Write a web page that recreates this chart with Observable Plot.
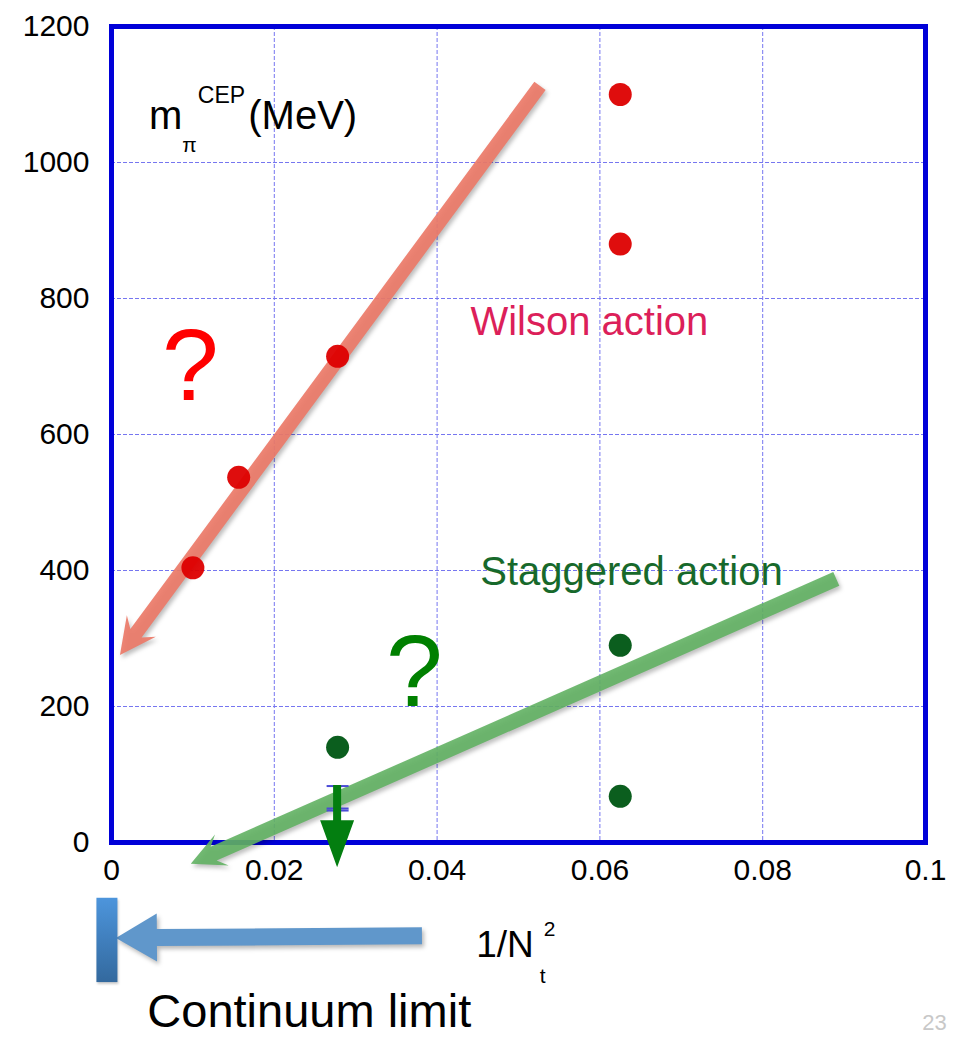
<!DOCTYPE html>
<html>
<head>
<meta charset="utf-8">
<script src="https://cdn.jsdelivr.net/npm/d3@7"></script>
<script src="https://cdn.jsdelivr.net/npm/@observablehq/plot@0.6"></script>
<style>
  html, body { margin: 0; padding: 0; background: #ffffff; }
  #chart svg { display: block; }
</style>
</head>
<body>
<div id="chart"></div>
<script>
// ---------- data ----------
// Wilson action points: x = 1/Nt^2, y = m_pi^CEP (MeV)
const wilsonX = [0.0625, 0.0625, 1 / 36, 1 / 64, 1 / 100];
const wilsonY = [1100, 880, 715, 537, 404];
// Staggered action points
const staggeredX = [0.0625, 0.0625, 1 / 36];
const staggeredY = [290, 68, 140];
// Upper-limit (Nt = 6 staggered) with error caps
const upperLimitX = [1 / 36];
const upperLimitFrom = [84];
const upperLimitTo = [-37];
const errorCapY = [83, 50, 47];
// Axis ticks
const xTicks = [0, 0.02, 0.04, 0.06, 0.08, 0.1];
const yTicks = [0, 200, 400, 600, 800, 1000, 1200];
const xGrid = [0.02, 0.04, 0.06, 0.08];
const yGrid = [200, 400, 600, 800, 1000];
// Trend arrows (data units: tail -> tip)
const arrowNames = ["wilson", "staggered", "continuum"];
const arrowX1 = [0.0527, 0.0891, 0.0382];
const arrowY1 = [1112, 387, -138];
const arrowX2 = [0.0011, 0.0098, 0.0006];
const arrowY2 = [275, -32, -141];
// Continuum-limit bar
const barX = [-0.0005];
const barY1 = [-82];
const barY2 = [-206];
// Text annotations
const labelNames = ["m", "pi", "cep", "mev", "wilson", "staggered", "qRed", "qGreen", "oneOverN", "sub_t", "sup_2", "continuum", "page"];
const labelText = ["m", "π", "CEP", "(MeV)", "Wilson action", "Staggered action", "?", "?", "1/N", "t", "2", "Continuum limit", "23"];
const labelX = [0.0046, 0.0087, 0.0106, 0.0168, 0.0441, 0.0453, 0.0097, 0.0372, 0.0448, 0.0526, 0.0531, 0.0044, 0.0996];
const labelY = [1050, 1016, 1088, 1050, 747, 378, 651, 201, -169, -206, -137, -272, -276];

// ---------- styles ----------
const labelStyle = {
  m: {fontSize: 40, fill: "#000"},
  pi: {fontSize: 21, fill: "#000"},
  cep: {fontSize: 23, fill: "#000"},
  mev: {fontSize: 40, fill: "#000"},
  wilson: {fontSize: 40, fill: "#dc1f5a"},
  staggered: {fontSize: 40, fill: "#17692b"},
  qRed: {fontSize: 102, fill: "#ff0000", textAnchor: "middle"},
  qGreen: {fontSize: 102, fill: "#008000", textAnchor: "middle"},
  oneOverN: {fontSize: 37, fill: "#000"},
  sub_t: {fontSize: 21, fill: "#000"},
  sup_2: {fontSize: 21, fill: "#000"},
  continuum: {fontSize: 47, fill: "#000"},
  page: {fontSize: 22, fill: "#c8c8c8"}
};
const arrowStyle = {
  wilson: {fill: "#ec7a68", opacity: 0.92, w: 14, hw: 18, hl: 36, notch: 9, shadow: true},
  staggered: {fill: "#62b163", opacity: 0.9, w: 15, hw: 17, hl: 34, notch: 9, shadow: true},
  continuum: {fill: "#6097cb", opacity: 1, w: 17, hw: 24, hl: 41, notch: 0, shadow: true}
};

// ---------- tables ----------
const wilson = wilsonX.map((x, i) => ({x, y: wilsonY[i]}));
const staggered = staggeredX.map((x, i) => ({x, y: staggeredY[i]}));
const caps = errorCapY.map(y => ({x: upperLimitX[0], y}));
const limits = upperLimitX.map((x, i) => ({x1: x, y1: upperLimitFrom[i], x2: x, y2: upperLimitTo[i]}));
const arrows = arrowNames.map((name, i) => ({name, x1: arrowX1[i], y1: arrowY1[i], x2: arrowX2[i], y2: arrowY2[i]}));
const bars = barX.map((x, i) => ({x, y1: barY1[i], y2: barY2[i]}));
const labels = labelNames.map((name, i) => ({name, text: labelText[i], x: labelX[i], y: labelY[i]}));

function arrowPath(x1, y1, x2, y2, w, hw, hl, notch) {
  const dx = x2 - x1, dy = y2 - y1, L = Math.hypot(dx, dy);
  const ux = dx / L, uy = dy / L, nx = -uy, ny = ux;
  const bx = x2 - ux * hl, by = y2 - uy * hl;
  const jx = x2 - ux * (hl - notch), jy = y2 - uy * (hl - notch);
  const p = [
    [x1 + nx * w / 2, y1 + ny * w / 2],
    [jx + nx * w / 2, jy + ny * w / 2],
    [bx + nx * hw, by + ny * hw],
    [x2, y2],
    [bx - nx * hw, by - ny * hw],
    [jx - nx * w / 2, jy - ny * w / 2],
    [x1 - nx * w / 2, y1 - ny * w / 2]
  ];
  return "M" + p.map(q => q[0].toFixed(2) + "," + q[1].toFixed(2)).join("L") + "Z";
}

// custom mark: big trend arrows drawn through Plot's scales
const trendArrows = (index, scales) => {
  const g = d3.create("svg:g");
  for (const a of arrows) {
    const s = arrowStyle[a.name];
    g.append("path")
      .attr("d", arrowPath(scales.x(a.x1), scales.y(a.y1), scales.x(a.x2), scales.y(a.y2), s.w, s.hw, s.hl, s.notch))
      .attr("fill", s.fill)
      .attr("fill-opacity", s.opacity)
      .style("filter", s.shadow ? "drop-shadow(2px 3px 2px rgba(0,0,0,0.28))" : null);
  }
  return g.node();
};

// custom mark: continuum-limit bar with gradient
const continuumBar = (index, scales) => {
  const g = d3.create("svg:g");
  const grad = g.append("defs").append("linearGradient")
    .attr("id", "barGrad").attr("x1", 0).attr("x2", 0).attr("y1", 0).attr("y2", 1);
  grad.append("stop").attr("offset", "0%").attr("stop-color", "#4d95dc");
  grad.append("stop").attr("offset", "100%").attr("stop-color", "#33699e");
  for (const b of bars) {
    const cx = scales.x(b.x), ya = scales.y(b.y1), yb = scales.y(b.y2);
    g.append("rect")
      .attr("x", cx - 10.5).attr("width", 21)
      .attr("y", Math.min(ya, yb)).attr("height", Math.abs(yb - ya))
      .attr("fill", "url(#barGrad)")
      .style("filter", "drop-shadow(1px 2px 1px rgba(0,0,0,0.2))");
  }
  return g.node();
};

// custom mark: upper-limit down arrow
const limitArrows = (index, scales) => {
  const g = d3.create("svg:g");
  for (const a of limits) {
    g.append("path")
      .attr("d", arrowPath(scales.x(a.x1), scales.y(a.y1), scales.x(a.x2), scales.y(a.y2), 8, 17, 47, 0))
      .attr("fill", "#037e10");
  }
  return g.node();
};

const capSymbol = {
  draw(context, size) {
    const r = Math.sqrt(size / Math.PI);
    context.moveTo(-r, 0);
    context.lineTo(r, 0);
  }
};

const textMarks = labels.map(l => {
  const s = labelStyle[l.name];
  return Plot.text([l], {
    x: "x", y: "y", text: "text",
    fontSize: s.fontSize, fill: s.fill,
    textAnchor: s.textAnchor || "start",
    lineAnchor: "bottom"
  });
});

const chart = Plot.plot({
  width: 960,
  height: 1037,
  marginLeft: 111,
  marginRight: 35,
  marginTop: 26,
  marginBottom: 195,
  x: {domain: [0, 0.1]},
  y: {domain: [0, 1200]},
  style: {
    fontFamily: "'Liberation Sans', Arial, Helvetica, sans-serif",
    background: "#ffffff",
    color: "#000000",
    overflow: "visible"
  },
  marks: [
    Plot.ruleX(xGrid, {stroke: "#7676f0", strokeWidth: 1, strokeDasharray: "4,2"}),
    Plot.ruleY(yGrid, {stroke: "#7676f0", strokeWidth: 1, strokeDasharray: "4,2"}),
    Plot.frame({stroke: "#0000d8", strokeWidth: 5}),
    Plot.axisX(xTicks, {tickSize: 0, tickPadding: 16, fontSize: 30, label: null, tickFormat: d => String(+d.toFixed(2))}),
    Plot.axisY(yTicks, {tickSize: 0, tickPadding: 22, fontSize: 30, label: null, tickFormat: d => String(d)}),
    trendArrows,
    continuumBar,
    Plot.dot(wilson, {x: "x", y: "y", r: 11.5, fill: "#dd0000", fillOpacity: 0.95}),
    Plot.dot(staggered, {x: "x", y: "y", r: 11.5, fill: "#0b5e1e"}),
    Plot.dot(caps, {x: "x", y: "y", r: 11, symbol: capSymbol, stroke: "#4a4ad6", strokeWidth: 2, fill: "none"}),
    limitArrows,
    ...textMarks
  ]
});

document.getElementById("chart").appendChild(chart);
</script>
</body>
</html>
